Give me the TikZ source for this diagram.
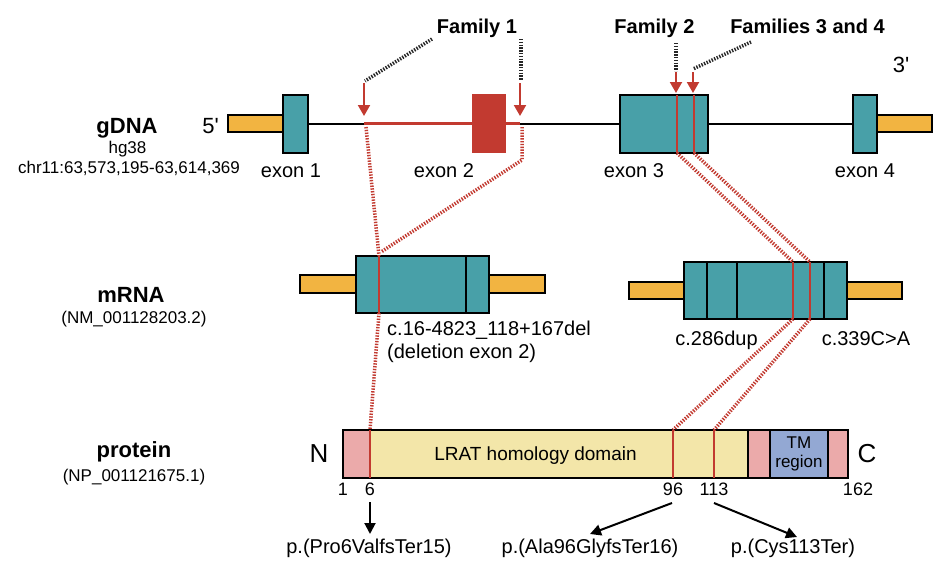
\documentclass[tikz,border=0pt]{standalone}
\usepackage{fontspec}
\setmainfont{Liberation Sans}
\usetikzlibrary{arrows.meta}
\definecolor{exonteal}{HTML}{48A0A8}
\definecolor{utrgold}{HTML}{F2B441}
\definecolor{mutred}{HTML}{C23A30}
\definecolor{domcream}{HTML}{F3E6A9}
\definecolor{termpink}{HTML}{EBAAAA}
\definecolor{tmblue}{HTML}{93A8D3}
\begin{document}
\begin{tikzpicture}[x=1pt,y=-1pt,
blk/.style={draw=black, line width=2pt, inner sep=0pt},
exon/.style={blk, fill=exonteal},
utr/.style={blk, fill=utrgold, minimum width=55pt, minimum height=17pt},
seg/.style={inner sep=0pt, minimum height=48pt},
cut/.style={mutred, line width=2.2pt},
link/.style={mutred, line width=3.5pt, dash pattern=on 1.4pt off 1.4pt},
lead/.style={black!85, line width=3.5pt, dash pattern=on 1.4pt off 1.4pt},
hit/.style={mutred, line width=2pt, -{Triangle[length=11pt,width=12pt]}},
pto/.style={black, line width=2pt, -{Triangle[length=11pt,width=11pt]}},
lbl/.style={anchor=base, inner sep=0pt, font=\fontsize{20}{24}\selectfont},
ttl/.style={anchor=base, inner sep=0pt, font=\fontsize{22}{26}\selectfont\bfseries},
sub/.style={anchor=base, inner sep=0pt, font=\fontsize{17}{20}\selectfont},
num/.style={anchor=base, inner sep=0pt, font=\fontsize{18}{20}\selectfont}]
\useasboundingbox[fill=white] (0,0) rectangle (940,573);
\node[ttl] (tg) at (127,133){gDNA};
\node[sub] (tgs) at (127.5,153){hg38};
\node[sub] (tgc) at (129,173){chr11:63,573,195-63,614,369};
\node[ttl] (tm) at (131,302){mRNA};
\node[sub] (tms) at (134,323){(NM\_001128203.2)};
\node[ttl] (tp) at (134,457){protein};
\node[sub] (tps) at (134,481){(NP\_001121675.1)};
\coordinate (c1) at (364,123.5);
\coordinate (c2) at (520,123.5);
\node[exon, minimum width=25pt, minimum height=58pt] (ex1) at (295.5,124){};
\node[exon, minimum width=88pt, minimum height=58pt] (ex3) at (664,124){};
\node[exon, minimum width=24pt, minimum height=58pt] (ex4) at (865,124){};
\draw[line width=2.2pt](ex1.east) -- (ex3.west);
\draw[line width=2.2pt](ex3.east) -- (ex4.west);
\draw[cut](c1) -- (c2);
\node[fill=mutred, inner sep=0pt, minimum width=34pt, minimum height=59pt] (ex2) at (489,123.5){};
\node[utr] (u5) at (255.5,123.5){};
\node[utr] (u3) at (904.5,123.5){};
\node[exon, minimum width=25pt, minimum height=58pt] at (ex1){};
\node[exon, minimum width=24pt, minimum height=58pt] at (ex4){};
\coordinate (g2t) at (677,95);
\coordinate (g2b) at (677,153);
\coordinate (g3t) at (694,95);
\coordinate (g3b) at (694,153);
\draw[cut](g2t) -- (g2b);
\draw[cut](g3t) -- (g3b);
\node[anchor=base, inner sep=0pt, font=\fontsize{22}{26}\selectfont] (p5) at (210.5,133){5\textquotesingle};
\node[anchor=base, inner sep=0pt, font=\fontsize{22}{26}\selectfont] (p3) at (901,72){3\textquotesingle};
\node[lbl] (l1) at (291,177){exon 1};
\node[lbl] (l2) at (444,177){exon 2};
\node[lbl] (l3) at (634,177){exon 3};
\node[lbl] (l4) at (865,177){exon 4};
\node[lbl, font=\fontsize{20}{24}\selectfont\bfseries] (f1) at (477,33){Family 1};
\node[lbl, font=\fontsize{20}{24}\selectfont\bfseries] (f2) at (654.5,33){Family 2};
\node[lbl, font=\fontsize{20}{24}\selectfont\bfseries] (f34) at (807.5,33){Families 3 and 4};
\coordinate (d1a) at (432,39);
\coordinate (d1b) at (365,81);
\coordinate (d2a) at (521,39);
\coordinate (d2b) at (521,80);
\coordinate (d3a) at (676,43);
\coordinate (d3b) at (676,71);
\coordinate (d4a) at (751,42);
\coordinate (d4b) at (693,69);
\draw[lead](d1a) -- (d1b);
\draw[lead](d2a) -- (d2b);
\draw[lead](d3a) -- (d3b);
\draw[lead](d4a) -- (d4b);
\coordinate (a1) at (364,83);
\coordinate (a2) at (520,83);
\coordinate (a3) at (676,72);
\coordinate (a4) at (693,72);
\draw[hit](a1) -- (364,116);
\draw[hit](a2) -- (520,116);
\draw[hit](a3) -- (676,93);
\draw[hit](a4) -- (693,93);
\node[utr, minimum width=56pt, minimum height=18pt] (m1u5) at (328,284){};
\node[utr, minimum width=56pt, minimum height=18pt] (m1u3) at (517,284){};
\node[exon, minimum width=133pt, minimum height=57pt] (m1) at (422.5,284.5){};
\draw[line width=2pt](466,256) -- (466,313);
\coordinate (r1t) at (379,256);
\coordinate (r1b) at (379,313);
\draw[cut](r1t) -- (r1b);
\node[utr] (m2u5) at (656.5,290.5){};
\node[utr] (m2u3) at (874.5,290.5){};
\node[exon, minimum width=163pt, minimum height=57pt] (m2) at (765.5,290.5){};
\draw[line width=2pt](707,262) -- (707,319);
\draw[line width=2pt](737,262) -- (737,319);
\draw[line width=2pt](824,262) -- (824,319);
\coordinate (r2t) at (793,262);
\coordinate (r2b) at (793,319);
\coordinate (r3t) at (810,262);
\coordinate (r3b) at (810,319);
\draw[cut](r2t) -- (r2b);
\draw[cut](r3t) -- (r3b);
\node[lbl, anchor=base west] (v1) at (387,335){c.16-4823\_118+167del};
\node[lbl, anchor=base west] (v1b) at (387,358){(deletion exon 2)};
\node[lbl] (v2) at (716.5,345){c.286dup};
\node[lbl] (v3) at (866,345){c.339C>A};
\node[seg, fill=termpink, minimum width=27pt] (nt) at (356.5,454){};
\node[seg, fill=domcream, minimum width=378pt] (dom) at (559,454){};
\node[seg, fill=termpink, minimum width=22pt] (lk) at (759,454){};
\node[seg, fill=tmblue, minimum width=58pt] (tmr) at (799,454){};
\node[seg, fill=termpink, minimum width=20pt] (ct) at (838,454){};
\node[blk, minimum width=505pt, minimum height=48pt] (prot) at (595.5,454){};
\draw[line width=2pt](748,430) -- (748,478);
\draw[line width=2pt](770,430) -- (770,478);
\draw[line width=2pt](828,430) -- (828,478);
\coordinate (q1) at (370,430);
\coordinate (q2) at (673,430);
\coordinate (q3) at (714,430);
\draw[cut](q1) -- (370,478);
\draw[cut](q2) -- (673,478);
\draw[cut](q3) -- (714,478);
\node[lbl, font=\fontsize{19}{22}\selectfont] (dl) at (535.5,460){LRAT homology domain};
\node[inner sep=0pt, align=center, font=\fontsize{17}{19}\selectfont] (tml) at (799,454){TM\\region};
\node[anchor=base, inner sep=0pt, font=\fontsize{26}{30}\selectfont] (pn) at (319,462){N};
\node[anchor=base, inner sep=0pt, font=\fontsize{26}{30}\selectfont] (pc) at (867,462){C};
\node[num] (n1) at (343,495){1};
\node[num] (n6) at (370,495){6};
\node[num] (n96) at (673,495){96};
\node[num] (n113) at (714,495){113};
\node[num] (n162) at (858,495){162};
\coordinate (g1) at (366,127);
\coordinate (g2) at (522,127);
\coordinate (g2k) at (522,160);
\draw[link](g1) -- (r1t);
\draw[link](g2) -- (g2k) -- (381,252);
\draw[link](g2b) -- (r2t);
\draw[link](g3b) -- (r3t);
\draw[link](r1b) -- (q1);
\draw[link](r2b) -- (q2);
\draw[link](r3b) -- (q3);
\node[lbl] (p6) at (369,553){p.(Pro6ValfsTer15)};
\node[lbl] (p96) at (590,553){p.(Ala96GlyfsTer16)};
\node[lbl] (p113) at (793,553){p.(Cys113Ter)};
\coordinate (b6) at (370,502);
\coordinate (b96) at (672,503);
\coordinate (b113) at (714,503);
\draw[pto](b6) -- (370,534);
\draw[pto](b96) -- (590,534);
\draw[pto](b113) -- (797,537);
\end{tikzpicture}
\end{document}
